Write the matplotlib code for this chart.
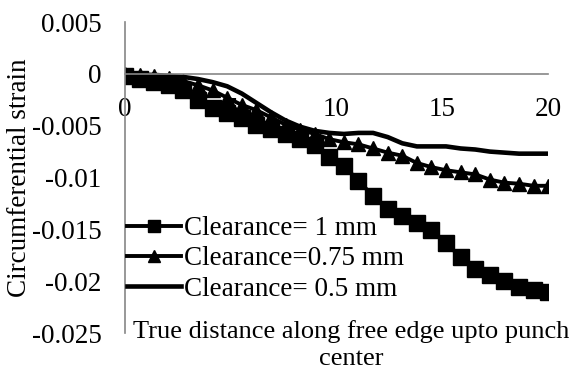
import matplotlib
matplotlib.use("Agg")
import matplotlib.pyplot as plt

plt.rcParams['font.family'] = ['Liberation Serif', 'DejaVu Serif']

# distance along the free edge (mm)
distance = [0, 0.69, 1.38, 2.07, 2.76, 3.45, 4.14, 4.83, 5.52, 6.21,
            6.9, 7.59, 8.28, 8.97, 9.66, 10.35, 11.04, 11.73, 12.42, 13.11,
            13.8, 14.49, 15.18, 15.87, 16.56, 17.25, 17.94, 18.63, 19.32, 20]

# circumferential strain for each clearance
strain_1mm = [-0.0002, -0.0005, -0.0008, -0.0011, -0.0016, -0.0025, -0.0033, -0.0038, -0.0043, -0.0049,
              -0.0053, -0.0058, -0.0063, -0.0069, -0.0080, -0.0089, -0.0103, -0.0118, -0.0130, -0.0137,
              -0.0144, -0.0151, -0.0163, -0.0177, -0.0188, -0.0194, -0.0200, -0.0206, -0.0209, -0.0210]
strain_075mm = [0.0000, -0.0001, -0.0002, -0.0004, -0.0007, -0.0011, -0.0016, -0.0023, -0.0030, -0.0035,
                -0.0042, -0.0049, -0.0054, -0.0058, -0.0063, -0.0066, -0.0068, -0.0072, -0.0076, -0.0079,
                -0.0086, -0.0090, -0.0093, -0.0095, -0.0097, -0.0102, -0.0105, -0.0106, -0.0108, -0.0108]
strain_05mm = [0.0000, -0.0001, -0.0001, -0.0002, -0.0003, -0.0005, -0.0008, -0.0012, -0.0019, -0.0028,
               -0.0037, -0.0045, -0.0051, -0.0055, -0.0057, -0.0058, -0.0057, -0.0057, -0.0061, -0.0067,
               -0.0070, -0.0070, -0.0070, -0.0072, -0.0073, -0.0075, -0.0076, -0.0077, -0.0077, -0.0077]

labels = ['Clearance= 1 mm', 'Clearance=0.75 mm', 'Clearance= 0.5 mm']
x_ticks = [0, 5, 10, 15, 20]
y_ticks = [0.005, 0, -0.005, -0.01, -0.015, -0.02, -0.025]
y_tick_labels = ['0.005', '0', '-0.005', '-0.01', '-0.015', '-0.02', '-0.025']

FS = 19.5

fig = plt.figure(figsize=(5.78, 3.71), dpi=100)
ax = fig.add_axes([125 / 578, 1 - 333 / 371, 423 / 578, 311 / 371])

ax.plot(distance, strain_1mm, color='black', lw=2.8, marker='s', ms=11, label=labels[0])
ax.plot(distance, strain_075mm, color='black', lw=2.8, marker='^', ms=10, label=labels[1])
ax.plot(distance, strain_05mm, color='black', lw=3.3, label=labels[2])

ax.set_xlim(0, 20)
ax.set_ylim(-0.025, 0.005)
ax.set_xticks(x_ticks)
ax.set_xticklabels([str(t) for t in x_ticks])
ax.set_yticks(y_ticks)
ax.set_yticklabels(y_tick_labels)

# axes cross at the origin
for side in ['top', 'right']:
    ax.spines[side].set_visible(False)
ax.spines['bottom'].set_position(('data', 0))
ax.spines['left'].set_position(('data', 0))
for side in ['bottom', 'left']:
    ax.spines[side].set_color('#868686')
    ax.spines[side].set_linewidth(1.2)
ax.tick_params(axis='both', length=0, labelsize=FS, pad=17)

fig.text(20 / 578, 1 - 178 / 371, 'Circumferential strain', rotation=90,
         ha='center', va='center', fontsize=FS)
fig.text(351 / 578, 1 - 345 / 371, 'True distance along free edge upto punch\ncenter',
         ha='center', va='center', fontsize=19, linespacing=1.25)

leg = ax.legend(loc='upper left', bbox_to_anchor=(127 / 578, 1 - 216 / 371),
                bbox_transform=fig.transFigure, frameon=False, fontsize=FS,
                handlelength=2.0, handletextpad=0.1, labelspacing=0.2, borderpad=0,
                borderaxespad=0)
for h in leg.legend_handles[:2]:
    h.set_markersize(9)

fig.savefig('out.png', dpi=100)
